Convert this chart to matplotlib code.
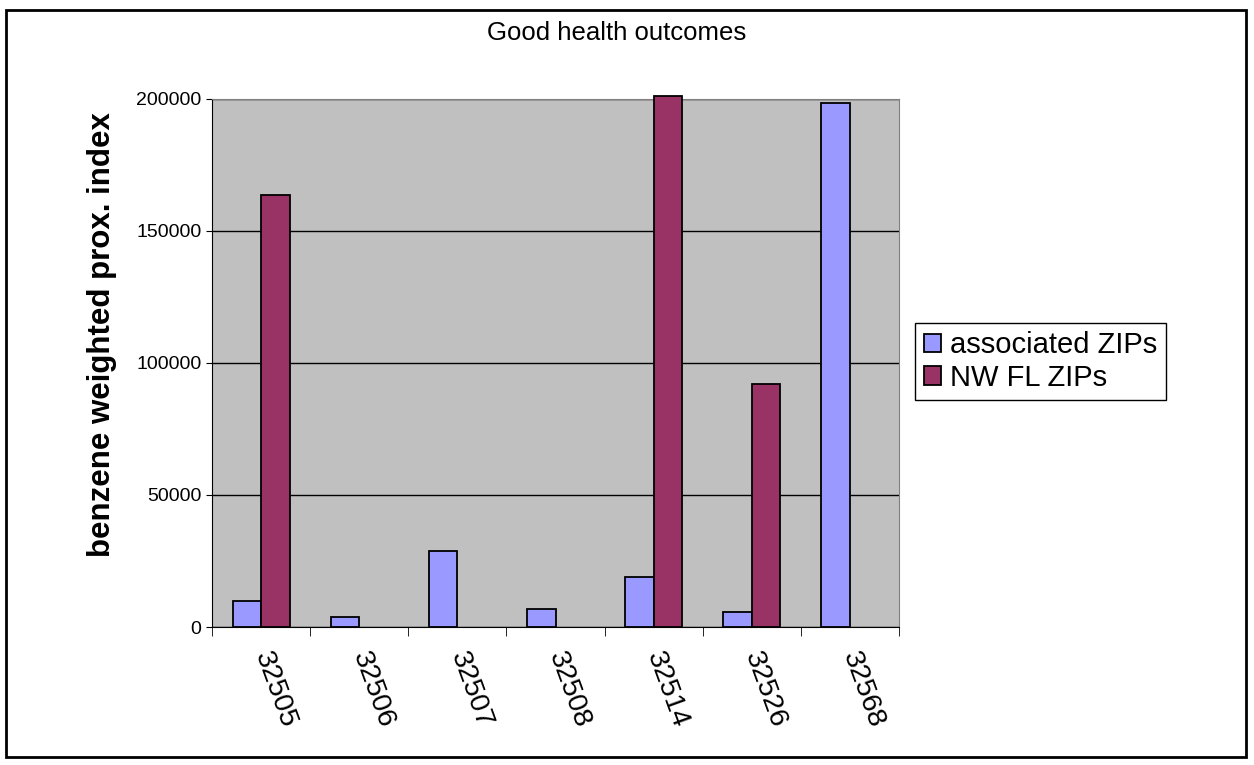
import numpy as np
import matplotlib.pyplot as plt
from matplotlib.patches import Rectangle
from matplotlib.ticker import FixedLocator

plt.rcParams['font.family'] = ['Liberation Sans', 'DejaVu Sans']

zips = ['32505', '32506', '32507', '32508', '32514', '32526', '32568']
associated = [10000, 3800, 28700, 7000, 19000, 5700, 198600]
nwfl = [163700, np.nan, np.nan, np.nan, 201200, 92000, np.nan]

W, H = 1254, 765
fig = plt.figure(figsize=(W / 100, H / 100), dpi=100)
ax = fig.add_axes([212 / W, 1 - 627 / H, 687 / W, 528 / H])
ax.set_facecolor('#C0C0C0')

x = np.arange(len(zips))
bw = 0.29
ax.bar(x - bw / 2, associated, bw, color='#9999FF', edgecolor='black',
       linewidth=1.3, label='associated ZIPs', zorder=3, clip_on=False)
ax.bar(x + bw / 2, nwfl, bw, color='#993366', edgecolor='black',
       linewidth=1.3, label='NW FL ZIPs', zorder=3, clip_on=False)

ax.set_xlim(-0.5, len(zips) - 0.5)
ax.set_ylim(0, 200000)
ax.set_yticks([0, 50000, 100000, 150000, 200000])
ax.tick_params(axis='y', labelsize=14, length=4, direction='out', color='black')
ax.yaxis.grid(True, color='black', linewidth=1, zorder=1)
ax.set_axisbelow(True)

# category labels at centres, tick marks between categories
ax.set_xticks(x)
ax.set_xticklabels(zips, rotation=-70, rotation_mode='anchor',
                   ha='left', va='center', fontsize=20.5)
ax.tick_params(axis='x', which='major', length=0, pad=18.5)
ax.xaxis.set_minor_locator(FixedLocator(np.arange(-0.5, len(zips), 1)))
ax.tick_params(axis='x', which='minor', length=6.5, direction='out', color='black')

for side in ['top', 'right']:
    ax.spines[side].set_color('#808080')
for side in ['left', 'bottom']:
    ax.spines[side].set_color('black')

fig.text(616.5 / W, 1 - 33 / H, 'Good health outcomes', ha='center', va='center',
         fontsize=18.5)
fig.text(102.5 / W, 1 - 335 / H, 'benzene weighted prox. index', rotation=90,
         ha='center', va='center', fontsize=22.5, fontweight='bold')

leg = fig.legend(loc='upper left', bbox_to_anchor=(915 / W, 1 - 322.5 / H),
                 fontsize=21, frameon=True, fancybox=False, framealpha=1,
                 edgecolor='black', borderpad=0.3, labelspacing=0.15,
                 handlelength=0.6, handleheight=0.6, handletextpad=0.3,
                 borderaxespad=0)
leg.get_frame().set_linewidth(1)

# outer chart border
fig.patches.append(Rectangle((6 / W, 1 - 757 / H), 1240 / W, 747 / H,
                             transform=fig.transFigure, fill=False,
                             edgecolor='black', linewidth=2))

fig.savefig('out.png', dpi=100)
